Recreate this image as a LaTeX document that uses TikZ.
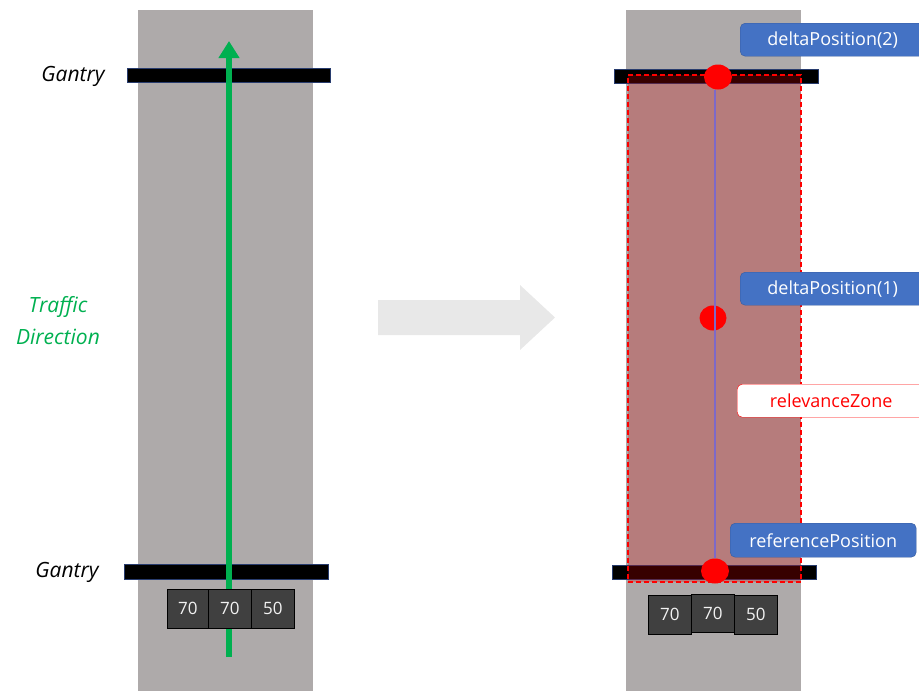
\documentclass[tikz,border=0pt]{standalone}
\usepackage{fontspec}
\setmainfont{Open Sans}
\usetikzlibrary{arrows.meta,shapes.geometric}
\definecolor{road}{RGB}{174,170,170}
\definecolor{zonefill}{RGB}{205,0,0}
\definecolor{boxblue}{RGB}{68,114,196}
\definecolor{trafgreen}{RGB}{0,176,80}
\definecolor{signgray}{RGB}{64,64,64}
\definecolor{arrowgray}{RGB}{232,232,232}
\definecolor{linepurple}{RGB}{125,105,200}
\tikzset{
  roadbox/.style={fill=road, draw=none},
  gantrybar/.style={fill=black, draw={rgb,255:red,40;green,60;blue,110}, line width=0.6pt, inner sep=0pt},
  signbox/.style={fill=signgray, draw=black, line width=0.6pt, text=white!90!gray, font=\fontsize{17}{19}\selectfont, inner sep=0pt},
  gantrylabel/.style={font=\fontsize{21}{24}\selectfont\itshape},
  bluelabel/.style={fill=boxblue, draw=boxblue!80!black, rounded corners=5pt, text=white, font=\fontsize{18}{20}\selectfont, inner sep=0pt},
  redlabel/.style={fill=white, draw=red, rounded corners=5pt, text=red, font=\fontsize{18}{20}\selectfont, inner sep=0pt},
  reddot/.style={ellipse, fill=red, draw=none, inner sep=0pt},
}
\begin{document}
\begin{tikzpicture}[x=1pt,y=-1pt]
\useasboundingbox (0,0) rectangle (919,691);
% left road
\node[roadbox, minimum width=175pt, minimum height=681pt, anchor=north west] (roadL) at (138,10) {};
\node[gantrybar, minimum width=203pt, minimum height=14pt, anchor=north west] (gLtop) at (127,68) {};
\node[gantrybar, minimum width=204pt, minimum height=15pt, anchor=north west] (gLbot) at (124,564) {};
\coordinate (arrStart) at (229,657);
\coordinate (arrEnd) at (229,41);
\draw[trafgreen, line width=5.5pt, -{Triangle[width=20pt,length=17pt]}] (arrStart) -- (arrEnd);
\node[signbox, minimum width=41pt, minimum height=39pt, anchor=north west] (sL1) at (167,589) {70};
\node[signbox, minimum width=43pt, minimum height=39pt, anchor=north west] (sL2) at (208,589) {70};
\node[signbox, minimum width=43pt, minimum height=39pt, anchor=north west] (sL3) at (251,589) {50};
\node[gantrylabel] (tGL1) at (73,76) {Gantry};
\node[gantrylabel] (tGL2) at (67,572) {Gantry};
\node[text=trafgreen, align=center, font=\fontsize{21}{32}\selectfont\itshape] (tTD) at (58,321) {Traffic\\Direction};
% big arrow
\fill[arrowgray] (378,300) -- (520,300) -- (520,285) -- (555,317.5) -- (520,350) -- (520,335) -- (378,335) -- cycle;
% right road
\node[roadbox, minimum width=175pt, minimum height=681pt, anchor=north west] (roadR) at (626,10) {};
\node[gantrybar, minimum width=204pt, minimum height=14pt, anchor=north west] (gRtop) at (614,69) {};
\node[gantrybar, minimum width=204pt, minimum height=14pt, anchor=north west] (gRbot) at (612,565) {};
\node[fill=zonefill, fill opacity=0.27, draw=red, dash pattern=on 5pt off 3pt, line width=1.5pt, minimum width=173pt, minimum height=507pt, anchor=north west, inner sep=0pt] (zoneR) at (627,74) {};
\node[reddot, minimum width=28pt, minimum height=25pt] (d2) at (718,77) {};
\node[reddot, minimum width=27pt, minimum height=25pt] (d1) at (713,318) {};
\node[reddot, minimum width=28pt, minimum height=25pt] (d0) at (715,571) {};
\draw[linepurple, line width=1.1pt] (d0.north) -- (d0.north |- d2.south);
\node[signbox, minimum width=43pt, minimum height=39pt, anchor=north west] (sR1) at (648,595) {70};
\node[signbox, minimum width=43pt, minimum height=38pt, anchor=north west] (sR2) at (691,594) {70};
\node[signbox, minimum width=43pt, minimum height=39pt, anchor=north west] (sR3) at (734,595) {50};
\node[bluelabel, minimum width=185pt, minimum height=33pt, anchor=north west] (bD2) at (740,23) {deltaPosition(2)};
\node[bluelabel, minimum width=185pt, minimum height=33pt, anchor=north west] (bD1) at (740,272) {deltaPosition(1)};
\node[redlabel, minimum width=188pt, minimum height=33pt, anchor=north west] (bRZ) at (737,384) {relevanceZone};
\node[bluelabel, minimum width=186pt, minimum height=34pt, anchor=north west] (bRP) at (730,523) {referencePosition};
\end{tikzpicture}
\end{document}
